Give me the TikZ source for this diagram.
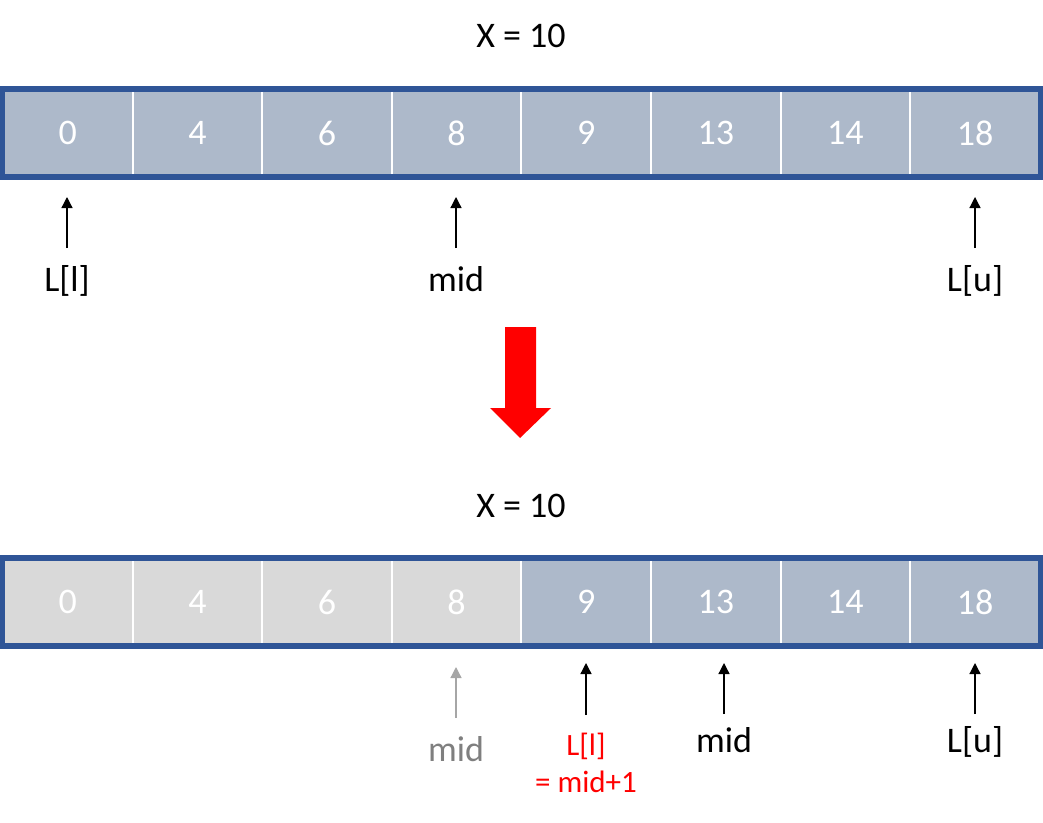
\documentclass[tikz,border=0pt]{standalone}
\usepackage{fontspec}
\setmainfont{Carlito}
\usetikzlibrary{arrows.meta}
\definecolor{cellblue}{HTML}{ADB9CA}
\definecolor{cellgray}{HTML}{D9D9D9}
\definecolor{rimblue}{HTML}{2F5597}
\definecolor{midgray}{HTML}{7F7F7F}
\definecolor{tipgray}{HTML}{A6A6A6}

\begin{document}
\begin{tikzpicture}[x=1pt,y=-1pt,
    cell/.style={draw=white,line width=2pt,fill=cellblue,text=white,
      minimum width=129.6pt,minimum height=86pt,inner sep=0pt,
      font=\fontsize{36}{40}\selectfont},
    rim/.style={draw=rimblue,line width=6pt},
    lbl/.style={anchor=base,inner sep=0pt,font=\fontsize{36}{40}\selectfont},
    ptr/.style={-{Triangle[length=11pt,width=11pt]},line width=1.3pt}]
  \useasboundingbox (0,0) rectangle (1043,822);

  %% Top array.
  \node[lbl] (xtop) at (521,47) {X = 10};
  \foreach \v [count=\i] in {0,4,6,8,9,13,14,18} {
    \node[cell] (t\i) at ({3+129.6*(\i-0.5)},133) {\v};
  }
  \draw[rim] (t1.north west) rectangle (t8.south east);

  % Pointers under the top array.
  \foreach \n/\x/\txt in {tl/67/L[l],tm/456/mid,tu/975/L[u]} {
    \node[lbl] (\n) at (\x,291) {\txt};
    \coordinate (\n-tail) at (\x,248);
    \coordinate (\n-tip) at (\x,197);
    \draw[ptr] (\n-tail) -- (\n-tip);
  }

  %% Red arrow between the two steps.
  \fill[red] (505,327) -- (536,327) -- (536,408) -- (551,408)
    -- (520,438) -- (490,408) -- (505,408) -- cycle;

  %% Bottom array.
  \node[lbl] (xbot) at (521,517) {X = 10};
  \foreach \v [count=\i] in {0,4,6,8} {
    \node[cell,fill=cellgray] (b\i) at ({3+129.6*(\i-0.5)},602) {\v};
  }
  \foreach \v [count=\i from 5] in {9,13,14,18} {
    \node[cell] (b\i) at ({3+129.6*(\i-0.5)},602) {\v};
  }
  \draw[rim] (b1.north west) rectangle (b8.south east);

  % Old mid, greyed out.
  \node[lbl,text=midgray] (om) at (456,761) {mid};
  \coordinate (om-tail) at (456,718);
  \coordinate (om-tip) at (456,667);
  \draw[ptr,draw=tipgray,fill=tipgray] (om-tail) -- (om-tip);

  % New lower bound.
  \node[lbl,text=red,align=center,font=\fontsize{31}{37}\selectfont]
    (nl) at (586,792) {L[l]\\= mid+1};
  \coordinate (nl-tail) at (586,715);
  \coordinate (nl-tip) at (586,663);
  \draw[ptr] (nl-tail) -- (nl-tip);

  % New mid and upper bound.
  \foreach \n/\x/\txt in {nm/724/mid,nu/975/L[u]} {
    \node[lbl] (\n) at (\x,752) {\txt};
    \coordinate (\n-tail) at (\x,714);
    \coordinate (\n-tip) at (\x,663);
    \draw[ptr] (\n-tail) -- (\n-tip);
  }
\end{tikzpicture}
\end{document}
